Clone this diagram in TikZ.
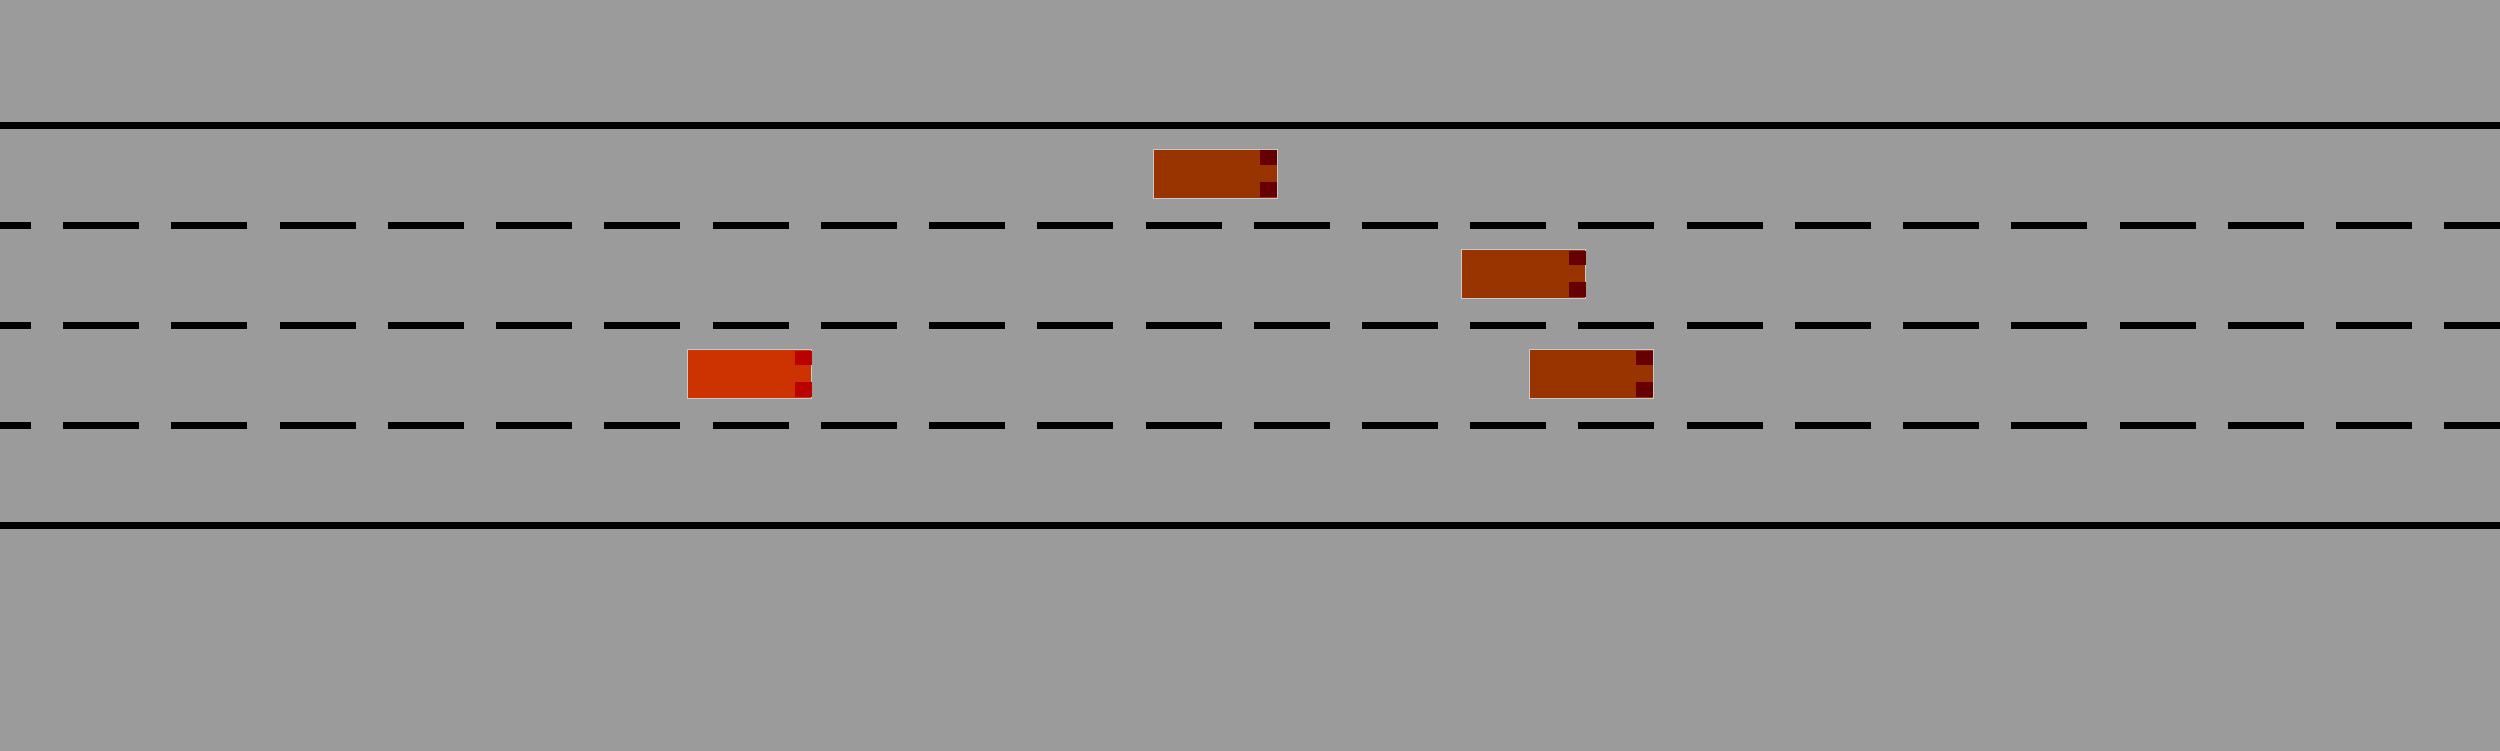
\documentclass[tikz,border=0pt]{standalone}
\usetikzlibrary{calc}

\definecolor{roadgray}{RGB}{155,155,155}
\definecolor{carbrown}{RGB}{153,51,0}
\definecolor{lampbrown}{RGB}{102,0,0}
\definecolor{egored}{RGB}{204,51,0}
\definecolor{lampred}{RGB}{187,0,0}
\definecolor{rimgray}{RGB}{200,200,200}

\tikzset{
  car/.style={draw=rimgray, line width=0.012cm, fill=carbrown, inner sep=0pt,
    minimum width=1.24cm, minimum height=0.49cm},
  edge/.style={line width=0.07cm},
  lane/.style={line width=0.07cm, dash pattern=on 0.76cm off 0.3223cm, dash phase=0.35cm}
}

\begin{document}
\begin{tikzpicture}
  \useasboundingbox (0,0) rectangle (25,7.5);
  \fill[roadgray] (-0.1,-0.1) rectangle (25.1,7.6);
  % road edges
  \coordinate (T0) at (-0.1,6.245);
  \coordinate (T1) at (25.1,6.245);
  \coordinate (B0) at (-0.1,2.245);
  \coordinate (B1) at (25.1,2.245);
  \draw[edge] (T0) -- (T1);
  \draw[edge] (B0) -- (B1);
  % lane markings
  \foreach \y/\n in {5.245/a, 4.245/b, 3.245/c} {
    \coordinate (L\n0) at (-0.1,\y);
    \coordinate (L\n1) at (25.1,\y);
    \draw[lane] (L\n0) -- (L\n1);
  }
  % cars
  \node[car] (c1) at (12.153,5.762) {};
  \node[car] (c2) at (15.235,4.762) {};
  \node[car] (c3) at (15.913,3.762) {};
  \node[car, fill=egored] (ego) at (7.495,3.762) {};
  \foreach \c in {c1, c2, c3} {
    \fill[lampbrown] ($(\c.north east)+(-0.175,-0.018)$) rectangle ($(\c.north east)+(-0.006,-0.165)$);
    \fill[lampbrown] ($(\c.south east)+(-0.175,0.018)$) rectangle ($(\c.south east)+(-0.006,0.165)$);
  }
  \fill[lampred] ($(ego.north east)+(-0.175,-0.018)$) rectangle ($(ego.north east)+(-0.006,-0.165)$);
  \fill[lampred] ($(ego.south east)+(-0.175,0.018)$) rectangle ($(ego.south east)+(-0.006,0.165)$);
\end{tikzpicture}
\end{document}
